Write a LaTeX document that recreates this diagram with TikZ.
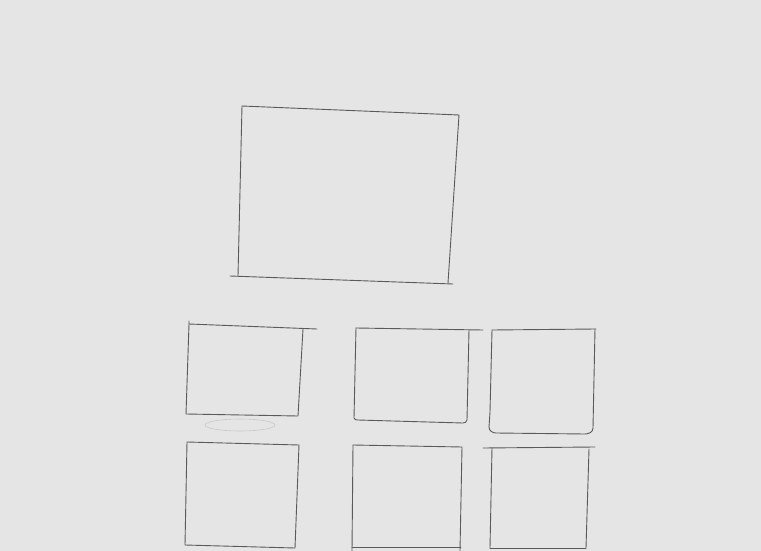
\documentclass[tikz,border=0pt]{standalone}
\definecolor{paper}{RGB}{229,229,229}
\definecolor{pencil}{RGB}{90,90,90}
\definecolor{faint}{RGB}{200,200,200}
\tikzset{sketch/.style={draw=pencil, line width=0.9pt, line join=round, line cap=round}}
\begin{document}
\begin{tikzpicture}[x=1pt,y=-1pt]
\fill[paper] (0,0) rectangle (761,551);
\useasboundingbox (0,0) rectangle (761,551);
% big box
\draw[sketch] (242,106) -- (459,115) -- (448,283);
\draw[sketch] (242,106) -- (238,276);
\draw[sketch] (230,276) -- (453,284);
% box A
\draw[sketch] (189,321) -- (189,324) -- (317,329);
\draw[sketch] (303,329) -- (298,416) -- (186,414) -- (189,324);
\draw[faint, line width=0.6pt] (240,425) ellipse (35 and 6);
% box B
\draw[sketch] (356,328) -- (483,330);
\draw[sketch] (469,330) -- (467,420) to[out=-100,in=0] (463,423) -- (358,420) to[out=180,in=-80] (354,418) -- (356,328);
% box C
\draw[sketch] (492,330) -- (596,329);
\draw[sketch] (595,329) -- (593,428) to[out=-90,in=0] (585,434) -- (496,433) to[out=180,in=-90] (489,427) -- (490,412) -- (492,330);
% box D
\draw[sketch] (187,442) -- (299,445) -- (295,548) -- (185,545) -- (187,442);
% box E
\draw[sketch] (353,445) -- (462,447) -- (460,551);
\draw[sketch] (353,445) -- (352,551);
\draw[sketch] (352,547) -- (461,547);
% box F
\draw[sketch] (483,448) -- (595,447);
\draw[sketch] (492,448) -- (490,548);
\draw[sketch] (589,449) -- (586,548);
\draw[sketch] (490,548) -- (586,548);
\end{tikzpicture}
\end{document}
